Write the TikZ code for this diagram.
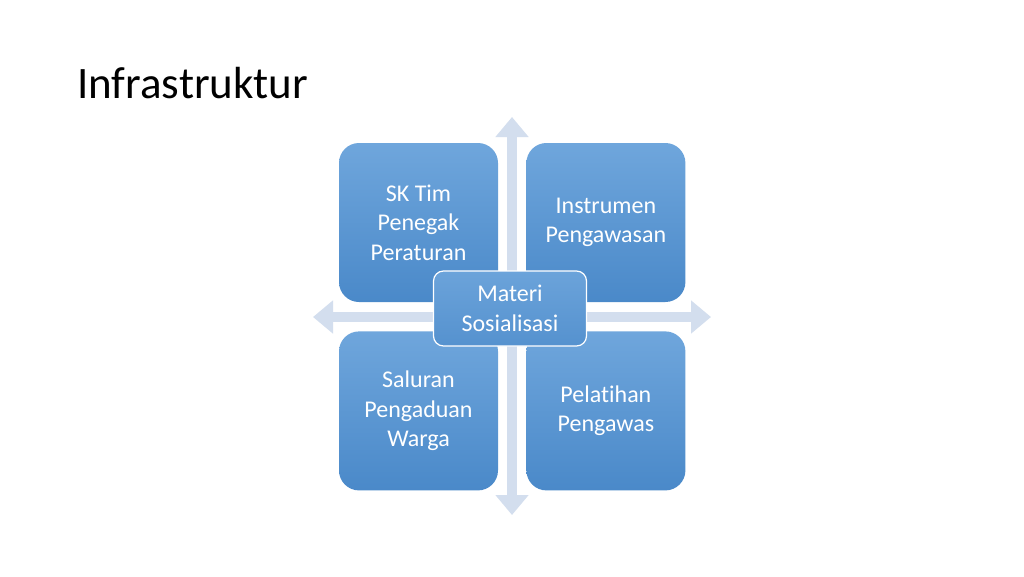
\documentclass[tikz,border=0pt]{standalone}
\usepackage{fontspec}
\setmainfont[Ligatures=NoCommon]{Carlito}
\usepackage{tikz}
\usetikzlibrary{positioning,arrows.meta}

\definecolor{boxtop}{HTML}{6FA6DC}
\definecolor{boxbot}{HTML}{4A89C9}
\definecolor{crossc}{HTML}{D3DEEE}

\begin{document}
\begin{tikzpicture}[x=1pt,y=-1pt,
  b/.style={rectangle,rounded corners=20pt,minimum width=159pt,minimum height=159pt,inner sep=0pt,
    top color=boxtop,bottom color=boxbot,text=white,align=center,
    font=\fontsize{24}{29.5}\selectfont},
  m/.style={rectangle,rounded corners=10pt,draw=white,line width=1.2pt,minimum width=153pt,minimum height=75pt,
    inner sep=0pt,top color=boxtop!90!boxbot,bottom color=boxbot!70!boxtop,text=white,align=center,
    font=\fontsize{24}{29.5}\selectfont},
  ar/.style={draw=crossc,line width=10pt,{Triangle[width=32pt,length=20pt]}-{Triangle[width=32pt,length=20pt]}}]
  \useasboundingbox[fill=white] (0,0) rectangle (1024,576);

  \node[anchor=base west,inner sep=0pt,font=\fontsize{45}{54}\selectfont] (t) at (77,98) {Infrastruktur};

  \coordinate (n) at (512,117);
  \coordinate (s) at (512,515);
  \coordinate (w) at (313,317);
  \coordinate (e) at (711,317);
  \draw[ar] (n) -- (s);
  \draw[ar] (w) -- (e);

  \node[b] (tl) at (418.5,222.5) {SK Tim\\Penegak\\Peraturan};
  \node[b,right=28pt] (tr) at (tl.east) {Instrumen\\Pengawasan};
  \node[b,below=29pt] (bl) at (tl.south) {Saluran\\Pengaduan\\Warga};
  \node[b,right=28pt] (br) at (bl.east) {Pelatihan\\Pengawas};

  \node[m] (c) at (510,308.5) {Materi\\Sosialisasi};
\end{tikzpicture}
\end{document}
